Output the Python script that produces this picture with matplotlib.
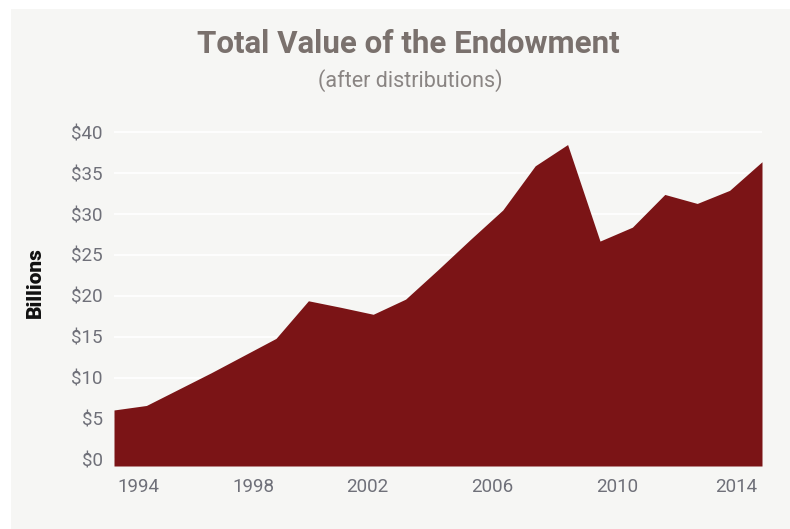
import matplotlib
matplotlib.use("Agg")
import matplotlib.pyplot as plt
from matplotlib.patches import Rectangle

plt.rcParams['font.family'] = ['Roboto', 'DejaVu Sans']

# Endowment value after distributions, $ billions (fiscal years)
years = [1994, 1995, 1996, 1997, 1998, 1999, 2000, 2001, 2002, 2003, 2004,
         2005, 2006, 2007, 2008, 2009, 2010, 2011, 2012, 2013, 2014]
values = [6.05, 6.6, 8.6, 10.6, 12.7, 14.8, 19.4, 18.6, 17.75, 19.6, 23.2,
          26.9, 30.5, 35.9, 38.5, 26.7, 28.4, 32.4, 31.3, 32.9, 36.4]

# tick labels as placed in the original graphic
tick_labels = ['1994', '1998', '2002', '2006', '2010', '2014']
tick_pos = [1994.74, 1998.29, 2001.81, 2005.67, 2009.52, 2013.2]
y_ticks = [0, 5, 10, 15, 20, 25, 30, 35, 40]

bg = '#f6f6f4'
fill_col = '#7b1416'
label_col = '#6f7079'

fig = plt.figure(figsize=(7.9, 5.29), dpi=100)
fig.patch.set_facecolor('white')
fig.patches.append(Rectangle((11 / 790, 0), 1, 1 - 9 / 529, transform=fig.transFigure,
                             facecolor=bg, edgecolor='none', zorder=-5))

ax = fig.add_axes([114 / 790, 63 / 529, 648 / 790, 336 / 529])
ax.set_facecolor(bg)
ymin = -0.8
ax.fill_between(years, values, ymin, color=fill_col, linewidth=0, zorder=2)
ax.set_xlim(1994, 2014)
ax.set_ylim(ymin, 40.28)

ax.set_yticks(y_ticks)
ax.set_yticklabels(['$%d' % v for v in y_ticks])
ax.set_xticks(tick_pos)
ax.set_xticklabels(tick_labels)
ax.tick_params(axis='both', length=0, labelsize=13.5, colors=label_col)
ax.tick_params(axis='y', pad=8)
ax.tick_params(axis='x', pad=9)
ax.grid(axis='y', color='white', linewidth=1.2, zorder=1)
ax.set_axisbelow(True)
for s in ax.spines.values():
    s.set_visible(False)

fig.text(35 / 790, 1 - 283 / 529, 'Billions', rotation=90, ha='center', va='center',
         fontsize=15, fontweight='black', color='#111111')
fig.text(408 / 790, 1 - 44 / 529, 'Total Value of the Endowment', ha='center', va='center',
         fontsize=22.5, fontweight='bold', color='#7a716d')
fig.text(410 / 790, 1 - 81 / 529, '(after distributions)', ha='center', va='center',
         fontsize=15.5, color='#8a8583')

fig.savefig('out.png', dpi=100, facecolor=fig.get_facecolor())
